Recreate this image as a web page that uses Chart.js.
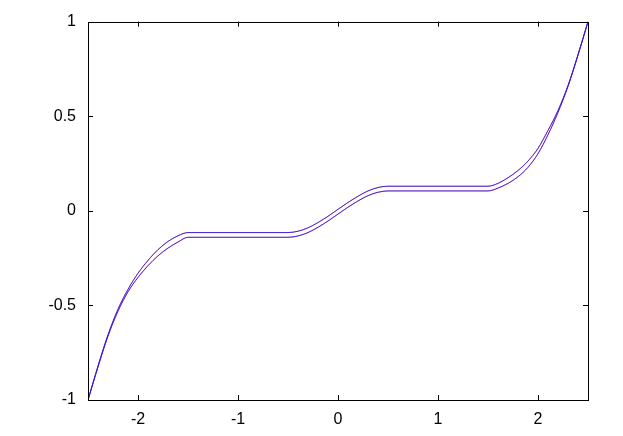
<!DOCTYPE html>
<html>
<head>
<meta charset="utf-8">
<script src="https://cdn.jsdelivr.net/npm/chart.js@4/dist/chart.umd.min.js"></script>
<style>
  html, body { margin: 0; padding: 0; background: #fff; }
  canvas { display: block; }
</style>
</head>
<body>
<canvas id="plot" width="623" height="436"></canvas>
<script>
const xs = [-2.5, -2.4, -2.3, -2.2, -2.1, -2.0, -1.9, -1.8, -1.7, -1.6, -1.5,
            -1.4, -1.3, -1.2, -1.1, -1.0, -0.9, -0.8, -0.7, -0.6, -0.5,
            -0.4, -0.3, -0.2, -0.1, 0, 0.1, 0.2, 0.3, 0.4,
            0.5, 0.6, 0.7, 0.8, 0.9, 1.0, 1.1, 1.2, 1.3, 1.4, 1.5,
            1.6, 1.7, 1.8, 1.9, 2.0, 2.1, 2.2, 2.3, 2.4, 2.5];

// upper curve
const upper = [-1, -0.82, -0.655, -0.52, -0.415, -0.33, -0.262, -0.205, -0.162, -0.132, -0.115,
               -0.115, -0.115, -0.115, -0.115, -0.115, -0.115, -0.115, -0.115, -0.115, -0.115,
               -0.108, -0.09, -0.062, -0.029, 0.008, 0.044, 0.077, 0.105, 0.123,
               0.13, 0.13, 0.13, 0.13, 0.13, 0.13, 0.13, 0.13, 0.13, 0.13, 0.13,
               0.145, 0.175, 0.213, 0.263, 0.33, 0.425, 0.53, 0.662, 0.825, 1];

// lower curve
const lower = [-1, -0.825, -0.662, -0.53, -0.428, -0.352, -0.29, -0.238, -0.197, -0.165, -0.14,
               -0.14, -0.14, -0.14, -0.14, -0.14, -0.14, -0.14, -0.14, -0.14, -0.14,
               -0.133, -0.115, -0.087, -0.054, -0.017, 0.019, 0.052, 0.08, 0.098,
               0.105, 0.105, 0.105, 0.105, 0.105, 0.105, 0.105, 0.105, 0.105, 0.105, 0.105,
               0.12, 0.145, 0.18, 0.23, 0.302, 0.402, 0.52, 0.658, 0.823, 1];

const xTicks = [-2, -1, 0, 1, 2];
const yTicks = [-1, -0.5, 0, 0.5, 1];

const pts = ys => xs.map((x, i) => ({x: x, y: ys[i]}));

function line(ys, color) {
    return {
        data: pts(ys),
        borderColor: color,
        borderWidth: 1,
        pointRadius: 0,
        fill: false,
        cubicInterpolationMode: 'monotone'
    };
}

// gnuplot style box with inward ticks on all four sides
const frame = {
    id: 'frame',
    afterDraw(chart) {
        const {ctx, chartArea: a, scales} = chart;
        const len = 5;
        ctx.save();
        ctx.strokeStyle = '#000';
        ctx.lineWidth = 1;
        ctx.beginPath();
        xTicks.forEach(v => {
            const px = Math.round(scales.x.getPixelForValue(v)) + 0.5;
            ctx.moveTo(px, a.bottom); ctx.lineTo(px, a.bottom - len);
            ctx.moveTo(px, a.top); ctx.lineTo(px, a.top + len);
        });
        yTicks.forEach(v => {
            const py = Math.round(scales.y.getPixelForValue(v)) + 0.5;
            ctx.moveTo(a.left, py); ctx.lineTo(a.left + len, py);
            ctx.moveTo(a.right, py); ctx.lineTo(a.right - len, py);
        });
        ctx.stroke();
        ctx.strokeRect(Math.round(a.left) + 0.5, Math.round(a.top) + 0.5,
                       Math.round(a.right - a.left), Math.round(a.bottom - a.top));
        ctx.restore();
    }
};

const font = {family: '"Liberation Sans", Arial, sans-serif', size: 16};

new Chart(document.getElementById('plot'), {
    type: 'line',
    data: {
        datasets: [
            line(upper, 'rgba(20,20,255,0.8)'),
            line(lower, 'rgba(20,20,255,0.8)'),
            line(upper, 'rgba(255,60,60,0.7)'),
            line(lower, 'rgba(255,60,60,0.7)')
        ]
    },
    options: {
        responsive: false,
        animation: false,
        devicePixelRatio: 1,
        layout: {padding: {top: 20, right: 35, left: 0, bottom: 0}},
        plugins: {legend: {display: false}, tooltip: {enabled: false}},
        scales: {
            x: {
                type: 'linear',
                min: -2.5,
                max: 2.5,
                afterBuildTicks: s => { s.ticks = xTicks.map(v => ({value: v})); },
                afterFit: s => { s.height = 36; },
                grid: {display: false, drawTicks: false},
                border: {display: false},
                ticks: {color: '#000', font: font, padding: 10, maxRotation: 0,
                        callback: v => String(v)}
            },
            y: {
                type: 'linear',
                min: -1,
                max: 1,
                afterBuildTicks: s => { s.ticks = yTicks.map(v => ({value: v})); },
                afterFit: s => { s.width = 88; },
                grid: {display: false, drawTicks: false},
                border: {display: false},
                ticks: {color: '#000', font: font, padding: 12,
                        callback: v => String(v)}
            }
        }
    },
    plugins: [frame]
});
</script>
</body>
</html>
